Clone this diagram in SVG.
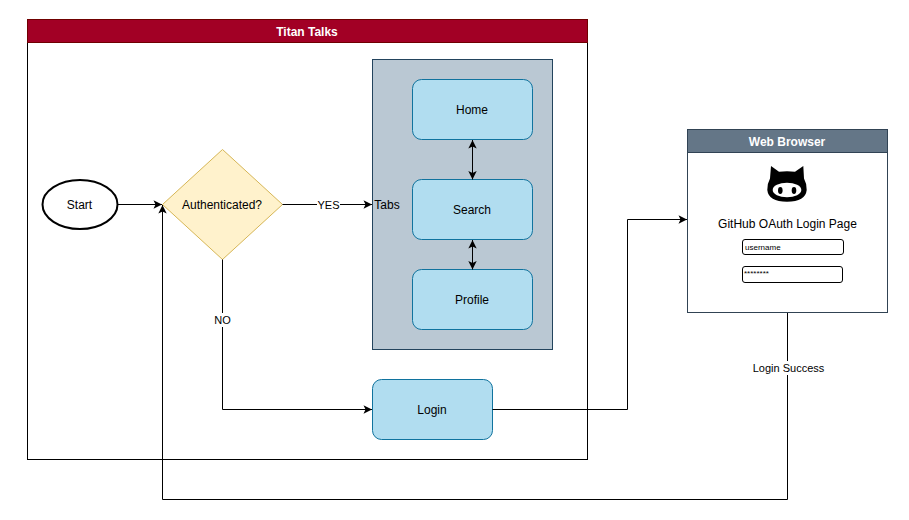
<svg xmlns="http://www.w3.org/2000/svg" width="909" height="520" viewBox="0 0 909 520">
<style>
text{font-family:"Liberation Sans",Arial,sans-serif;font-size:12px;fill:#000;text-anchor:middle}
.b{font-weight:bold}
.w{fill:#fff}
.rr{fill:#b1ddf0;stroke:#10739e;stroke-width:1}
.c{fill:none;stroke:#000;stroke-width:1}
.lb{fill:#fff;stroke:none}
.s{font-size:11px}
.i{font-size:8px;text-anchor:start}
</style>
<defs>
<marker id="a" viewBox="0 0 10 10" refX="9.500" refY="5" markerWidth="10" markerHeight="10" markerUnits="userSpaceOnUse" orient="auto-start-reverse"><path d="M1 0.800L9.500 5L1 9.200L3 5Z" fill="#000"/></marker>
</defs>
<rect width="909" height="520" fill="#fff"/>
<g id="titan-talks">
<rect x="27.500" y="19.500" width="560" height="440" fill="#fff" stroke="#000"/>
<rect x="27.500" y="19.500" width="560" height="23" fill="#a20025" stroke="#6f0000"/>
<text class="b w" x="307" y="35.500">Titan Talks</text>
</g>
<g id="tabs">
<rect x="372.500" y="59.500" width="180" height="290" fill="#bac8d3" stroke="#23445d"/>
<text x="387" y="209">Tabs</text>
</g>
<g id="home"><rect class="rr" x="412.500" y="79.500" width="120" height="60" rx="9"/><text x="472" y="114">Home</text></g>
<g id="search"><rect class="rr" x="412.500" y="179.500" width="120" height="60" rx="9"/><text x="472" y="214">Search</text></g>
<g id="profile"><rect class="rr" x="412.500" y="269.500" width="120" height="60" rx="9"/><text x="472" y="304">Profile</text></g>
<g id="login"><rect class="rr" x="372.500" y="379.500" width="120" height="60" rx="9"/><text x="432" y="414">Login</text></g>
<g id="start"><ellipse cx="80" cy="204.500" rx="37.500" ry="24.500" fill="#fff" stroke="#000" stroke-width="2"/><text x="79.500" y="209">Start</text></g>
<g id="authenticated"><path d="M222.500 149.500L282.500 204.500L222.500 259.500L162.500 204.500Z" fill="#fff2cc" stroke="#d6b656"/><text x="222" y="209">Authenticated?</text></g>
<g id="web-browser">
<rect x="687.500" y="129.500" width="200" height="183" fill="#fff" stroke="#314354"/>
<rect x="687.500" y="129.500" width="200" height="23" fill="#647687" stroke="#314354"/>
<text class="b w" x="787" y="145.500">Web Browser</text>
<path d="M771 166L779 171.800Q787 170.500 795 171.800L803.300 166L804 178.500Q807 184 806.700 190Q805.500 201.700 787 201.700Q768.500 201.700 767.300 190Q767 184 770 178.500Z" fill="#000"/>
<ellipse cx="787" cy="190" rx="14.300" ry="7.300" fill="#fff"/>
<ellipse cx="780.300" cy="190.500" rx="2.300" ry="3.400" fill="#000"/>
<ellipse cx="794" cy="190.500" rx="2.300" ry="3.400" fill="#000"/>
<text x="787.500" y="228">GitHub OAuth Login Page</text>
<rect x="742.500" y="239.500" width="101" height="15" rx="2.500" fill="#fff" stroke="#000"/>
<text class="i" x="745" y="250">username</text>
<rect x="742.500" y="266.500" width="100" height="16" rx="2.500" fill="#fff" stroke="#000"/>
<text class="i" x="744" y="276">********</text>
</g>
<g id="connectors">
<path class="c" d="M118 204.500H162" marker-end="url(#a)"/>
<path class="c" d="M282.500 204.500H372" marker-end="url(#a)"/>
<path class="c" d="M222.500 259.500V409.500H372" marker-end="url(#a)"/>
<path class="c" d="M472.500 140V179.500" marker-start="url(#a)" marker-end="url(#a)"/>
<path class="c" d="M472.500 240V269.500" marker-start="url(#a)" marker-end="url(#a)"/>
<path class="c" d="M492.500 409.500H627.500V219.500H687" marker-end="url(#a)"/>
<path class="c" d="M787.500 313V499.500H162.500V205" marker-end="url(#a)"/>
<rect class="lb" x="317" y="198" width="23" height="14"/><text class="s" x="328.500" y="209">YES</text>
<rect class="lb" x="213" y="313" width="19" height="14"/><text class="s" x="222.500" y="324">NO</text>
<rect class="lb" x="752" y="361" width="73" height="14"/><text class="s" x="788.500" y="372">Login Success</text>
</g>
</svg>
